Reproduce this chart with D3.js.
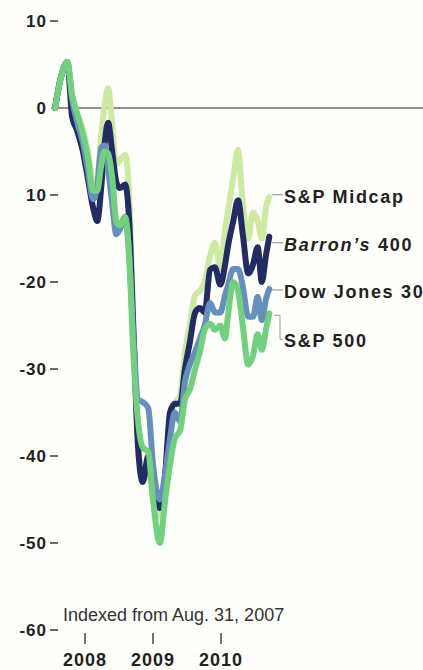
<!DOCTYPE html>
<html>
<head>
<meta charset="utf-8">
<script src="https://cdn.jsdelivr.net/npm/d3@7"></script>
<style>
  body { margin: 0; background: #fefefa; }
  svg { display: block; }
  text { font-family: "Liberation Sans", Arial, sans-serif; fill: #222; }
</style>
</head>
<body>
<svg id="chart" width="423" height="670"></svg>
<script>
// time in decimal years
var times = [2007.56, 2007.63, 2007.74, 2007.81, 2007.88, 2007.97, 2008.04, 2008.12, 2008.18, 2008.24,
             2008.29, 2008.34, 2008.40, 2008.46, 2008.51, 2008.59, 2008.65, 2008.71, 2008.78, 2008.85,
             2008.93, 2009.00, 2009.10, 2009.18, 2009.25, 2009.32, 2009.40, 2009.47, 2009.54, 2009.62,
             2009.69, 2009.76, 2009.84, 2009.91, 2009.99, 2010.06, 2010.10, 2010.18, 2010.25, 2010.32,
             2010.40, 2010.47, 2010.54, 2010.60, 2010.66, 2010.71];

var midcap = [0, 3, 5.3, 1.5, -0.5, -2.5, -5, -8.5, -8, -3,
              0.5, 2.3, -2, -6.5, -6, -5.4, -10, -25, -38, -42,
              -41, -45, -47, -42, -37, -34, -33, -28, -25, -21.5,
              -21, -20, -17, -15.5, -18.5, -14, -12, -8, -4.8, -11,
              -15, -12, -13, -15, -11.5, -10.2];

var barrons = [0, 3, 5.3, -1, -2.5, -5, -8, -11.5, -13, -9,
               -4, -1.7, -5, -8.5, -9.2, -8.8, -13, -25, -39, -43,
               -40, -44, -46, -42, -35, -34, -34, -30, -27, -23.5,
               -23, -23.5, -18.6, -18.3, -20.3, -18, -16, -13, -10.6, -14.5,
               -19, -18, -16, -20, -17, -14.8];

var dow = [0, 3, 5.3, 1, -1.5, -4, -7, -10.5, -9, -4.5,
           -4.3, -7, -11, -14.5, -14, -12.5, -17, -26, -33.5, -33.8,
           -34.5, -41, -45, -42, -38, -35, -36, -31.5, -29.5, -28,
           -26.5, -25, -22.4, -23.5, -23.5, -21.5, -20.5, -18.5, -18.5, -20.5,
           -24, -24, -21.7, -24.4, -22, -20.8];

var sp500 = [0, 3, 5.3, 1.5, -0.5, -3, -5.5, -9.5, -9.5, -6.5,
             -5, -5.2, -8, -13, -13.5, -12.6, -17, -28, -36, -39,
             -39.5, -45, -50, -45, -41, -38, -37, -33.5, -32.4, -30,
             -28, -25.5, -24.8, -25.5, -25, -26.5, -24, -20, -21, -25,
             -29.5, -28.5, -26, -27.8, -25.5, -23.6];

var seriesNames = ["S&P Midcap", "Barron's 400", "Dow Jones 30", "S&P 500"];
var seriesValues = [midcap, barrons, dow, sp500];
var seriesColors = ["#cde9a4", "#222b62", "#6690bb", "#72d07e"];

var yTicks = [10, 0, -10, -20, -30, -40, -50, -60];
var yTickLabels = ["10", "0", "10", "-20", "-30", "-40", "-50", "-60"];
var xTicks = [2008, 2009, 2010];
var note = "Indexed from Aug. 31, 2007";

var svg = d3.select("#chart");

var x = d3.scaleLinear().domain([2008, 2010]).range([85, 221]);
var y = d3.scaleLinear().domain([10, -60]).range([21, 630]);

// y axis: labels with short dash ticks
var yAxis = svg.append("g");
yTicks.forEach(function (v, i) {
    yAxis.append("text")
        .attr("x", 47)
        .attr("y", y(v))
        .attr("dy", "0.36em")
        .attr("text-anchor", "end")
        .style("font-size", "17px")
        .style("font-weight", "bold")
        .style("letter-spacing", "1px")
        .text(yTickLabels[i]);
    if (v !== 0) {
        yAxis.append("line")
            .attr("x1", 50).attr("x2", 58)
            .attr("y1", y(v)).attr("y2", y(v))
            .attr("stroke", "#444").attr("stroke-width", 1.6);
    }
});

// zero line
svg.append("line")
    .attr("x1", 51).attr("x2", 423)
    .attr("y1", y(0)).attr("y2", y(0))
    .attr("stroke", "#6a6a6a").attr("stroke-width", 1.5);

// lines
var line = d3.line()
    .x(function (d) { return x(d[0]); })
    .y(function (d) { return y(d[1]); })
    .curve(d3.curveMonotoneX);

seriesValues.forEach(function (vals, i) {
    var pts = times.map(function (t, j) { return [t, vals[j]]; });
    svg.append("path")
        .datum(pts)
        .attr("fill", "none")
        .attr("stroke", seriesColors[i])
        .attr("stroke-width", 6)
        .attr("stroke-linejoin", "round")
        .attr("stroke-linecap", "round")
        .attr("d", line);
});

// labels with leaders
var lastT = times[times.length - 1];
var labelX = 284;
var labelOffsets = [0, 8, 3, 28];
seriesValues.forEach(function (vals, i) {
    var ey = y(vals[vals.length - 1]);
    var ly = ey + labelOffsets[i];
    var g = svg.append("g");
    if (i === 3) {
        g.append("path")
            .attr("d", "M" + (x(lastT) + 5) + "," + (ey + 2) + "H280V" + (ly - 2) + "H" + (labelX - 1))
            .attr("fill", "none").attr("stroke", "#999").attr("stroke-width", 1);
    } else {
        g.append("line")
            .attr("x1", x(lastT) + 3).attr("x2", labelX - 1)
            .attr("y1", ly - 2).attr("y2", ly - 2)
            .attr("stroke", "#888").attr("stroke-width", 1);
    }
    var t = g.append("text")
        .attr("x", labelX)
        .attr("y", ly)
        .attr("dy", "0.33em")
        .style("font-size", "18px")
        .style("font-weight", "bold")
        .style("letter-spacing", "1.7px");
    if (i === 1) {
        t.append("tspan").style("font-style", "italic").text("Barron\u2019s");
        t.append("tspan").text(" 400");
    } else {
        t.text(seriesNames[i]);
    }
});

// note and x axis
svg.append("text")
    .attr("x", 63).attr("y", 621)
    .style("font-size", "18px")
    .style("fill", "#333")
    .text(note);

var xAxis = svg.append("g");
xTicks.forEach(function (v) {
    xAxis.append("line")
        .attr("x1", x(v)).attr("x2", x(v))
        .attr("y1", 633).attr("y2", 644)
        .attr("stroke", "#444").attr("stroke-width", 1.5);
    xAxis.append("text")
        .attr("x", x(v)).attr("y", 666)
        .attr("text-anchor", "middle")
        .style("font-size", "18px")
        .style("font-weight", "bold")
        .style("letter-spacing", "1px")
        .text(v);
});
</script>
</body>
</html>
